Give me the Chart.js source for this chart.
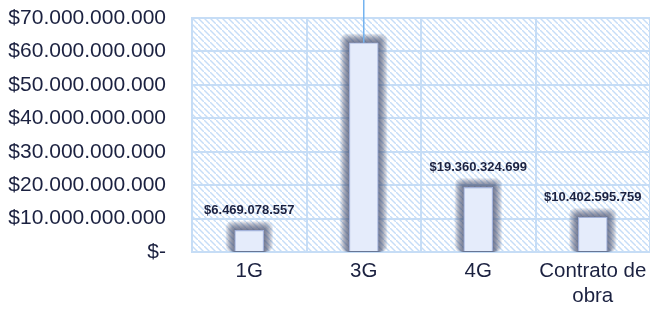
<!DOCTYPE html>
<html>
<head>
<meta charset="utf-8">
<script src="https://cdn.jsdelivr.net/npm/chart.js@4.4.1/dist/chart.umd.min.js"></script>
<style>
    html, body { margin: 0; padding: 0; background: #ffffff; }
    #wrap { width: 650px; height: 310px; position: relative; }
</style>
</head>
<body>
<div id="wrap"><canvas id="mainChart"></canvas></div>
<script>
// datos
const categorias = ['1G', '3G', '4G', ['Contrato de', 'obra']];
const valores = [6469078557, 62600000000, 19360324699, 10402595759];
const mostrarEtiqueta = [true, false, true, true]; // la de 3G queda fuera del área visible
const ticksY = [0, 10000000000, 20000000000, 30000000000, 40000000000, 50000000000, 60000000000, 70000000000];

const colorTexto = '#1b2140';
const colorGrid = '#c6ddf6';
const fuente = '"Liberation Sans", Arial, sans-serif';

function formatoPesos(v) {
    if (v === 0) return '$-';
    return '$' + Math.round(v).toString().replace(/\B(?=(\d{3})+(?!\d))/g, '.');
}

// patrón de rayas diagonales para el fondo
function crearPatron(ctx) {
    const c = document.createElement('canvas');
    c.width = 6;
    c.height = 6;
    const p = c.getContext('2d');
    p.fillStyle = '#ffffff';
    p.fillRect(0, 0, 6, 6);
    p.fillStyle = '#c6ddf8';
    for (let i = 0; i < 6; i++) {
        p.fillRect(i, i, 1.5, 1.5);
    }
    return ctx.createPattern(c, 'repeat');
}

const fondoPlugin = {
    id: 'fondo',
    beforeDraw(chart) {
        const { ctx, chartArea } = chart;
        ctx.save();
        ctx.fillStyle = crearPatron(ctx);
        ctx.fillRect(chartArea.left, chartArea.top, chartArea.right - chartArea.left, chartArea.bottom - chartArea.top);
        ctx.restore();
    }
};

// halo difuso alrededor de cada barra (capas concéntricas)
const sombraPlugin = {
    id: 'sombra',
    beforeDatasetsDraw(chart) {
        const { ctx, chartArea } = chart;
        const meta = chart.getDatasetMeta(0);
        ctx.save();
        ctx.beginPath();
        ctx.rect(chartArea.left, 0, chartArea.right - chartArea.left, chartArea.bottom + 2);
        ctx.clip();
        meta.data.forEach(bar => {
            const { x, y, base, width } = bar.getProps(['x', 'y', 'base', 'width'], true);
            for (let k = 9; k >= 1; k--) {
                ctx.fillStyle = 'rgba(65, 75, 105, 0.12)';
                ctx.beginPath();
                if (ctx.roundRect) {
                    ctx.roundRect(x - width / 2 - k, y - k, width + 2 * k, base - y + k + 1, Math.min(k, 6));
                } else {
                    ctx.rect(x - width / 2 - k, y - k, width + 2 * k, base - y + k + 1);
                }
                ctx.fill();
            }
        });
        ctx.restore();
    }
};

const etiquetasPlugin = {
    id: 'etiquetas',
    afterDatasetsDraw(chart) {
        const { ctx } = chart;
        const meta = chart.getDatasetMeta(0);
        ctx.save();
        meta.data.forEach((bar, i) => {
            if (mostrarEtiqueta[i]) {
                ctx.font = 'bold 13px ' + fuente;
                ctx.fillStyle = colorTexto;
                ctx.textAlign = 'center';
                ctx.textBaseline = 'middle';
                ctx.fillText(formatoPesos(valores[i]), bar.x, bar.y - 20);
            } else {
                // línea guía hacia la etiqueta fuera del gráfico
                ctx.strokeStyle = '#74b3f0';
                ctx.lineWidth = 1.5;
                ctx.beginPath();
                ctx.moveTo(bar.x, bar.y);
                ctx.lineTo(bar.x, 0);
                ctx.stroke();
            }
        });
        ctx.restore();
    }
};

const ctx = document.getElementById('mainChart').getContext('2d');
new Chart(ctx, {
    type: 'bar',
    data: {
        labels: categorias,
        datasets: [{
            data: valores,
            backgroundColor: '#e5ecfb',
            borderColor: '#a3b2da',
            borderWidth: 1.2,
            barThickness: 29
        }]
    },
    options: {
        responsive: true,
        maintainAspectRatio: false,
        animation: false,
        layout: { padding: { top: 18, right: 0, left: 0, bottom: 0 } },
        plugins: {
            legend: { display: false },
            tooltip: { enabled: false }
        },
        scales: {
            x: {
                afterFit(scale) {
                    scale.height = 58;
                    scale.paddingLeft = 0;
                    scale.paddingRight = 0;
                },
                grid: {
                    color: colorGrid,
                    lineWidth: 2,
                    offset: true,
                    drawTicks: false
                },
                border: { color: colorGrid, width: 2 },
                ticks: {
                    color: colorTexto,
                    font: { family: fuente, size: 20.5 },
                    padding: 7,
                    maxRotation: 0
                }
            },
            y: {
                min: 0,
                max: 70000000000,
                afterBuildTicks(scale) {
                    scale.ticks = ticksY.map(v => ({ value: v }));
                },
                afterFit(scale) {
                    scale.width = 192;
                    scale.paddingTop = 0;
                    scale.paddingBottom = 0;
                },
                grid: {
                    color: colorGrid,
                    lineWidth: 2,
                    drawTicks: false
                },
                border: { color: colorGrid, width: 2 },
                ticks: {
                    color: colorTexto,
                    font: { family: fuente, size: 21 },
                    padding: 26,
                    callback: v => formatoPesos(v)
                }
            }
        }
    },
    plugins: [fondoPlugin, sombraPlugin, etiquetasPlugin]
});
</script>
</body>
</html>
